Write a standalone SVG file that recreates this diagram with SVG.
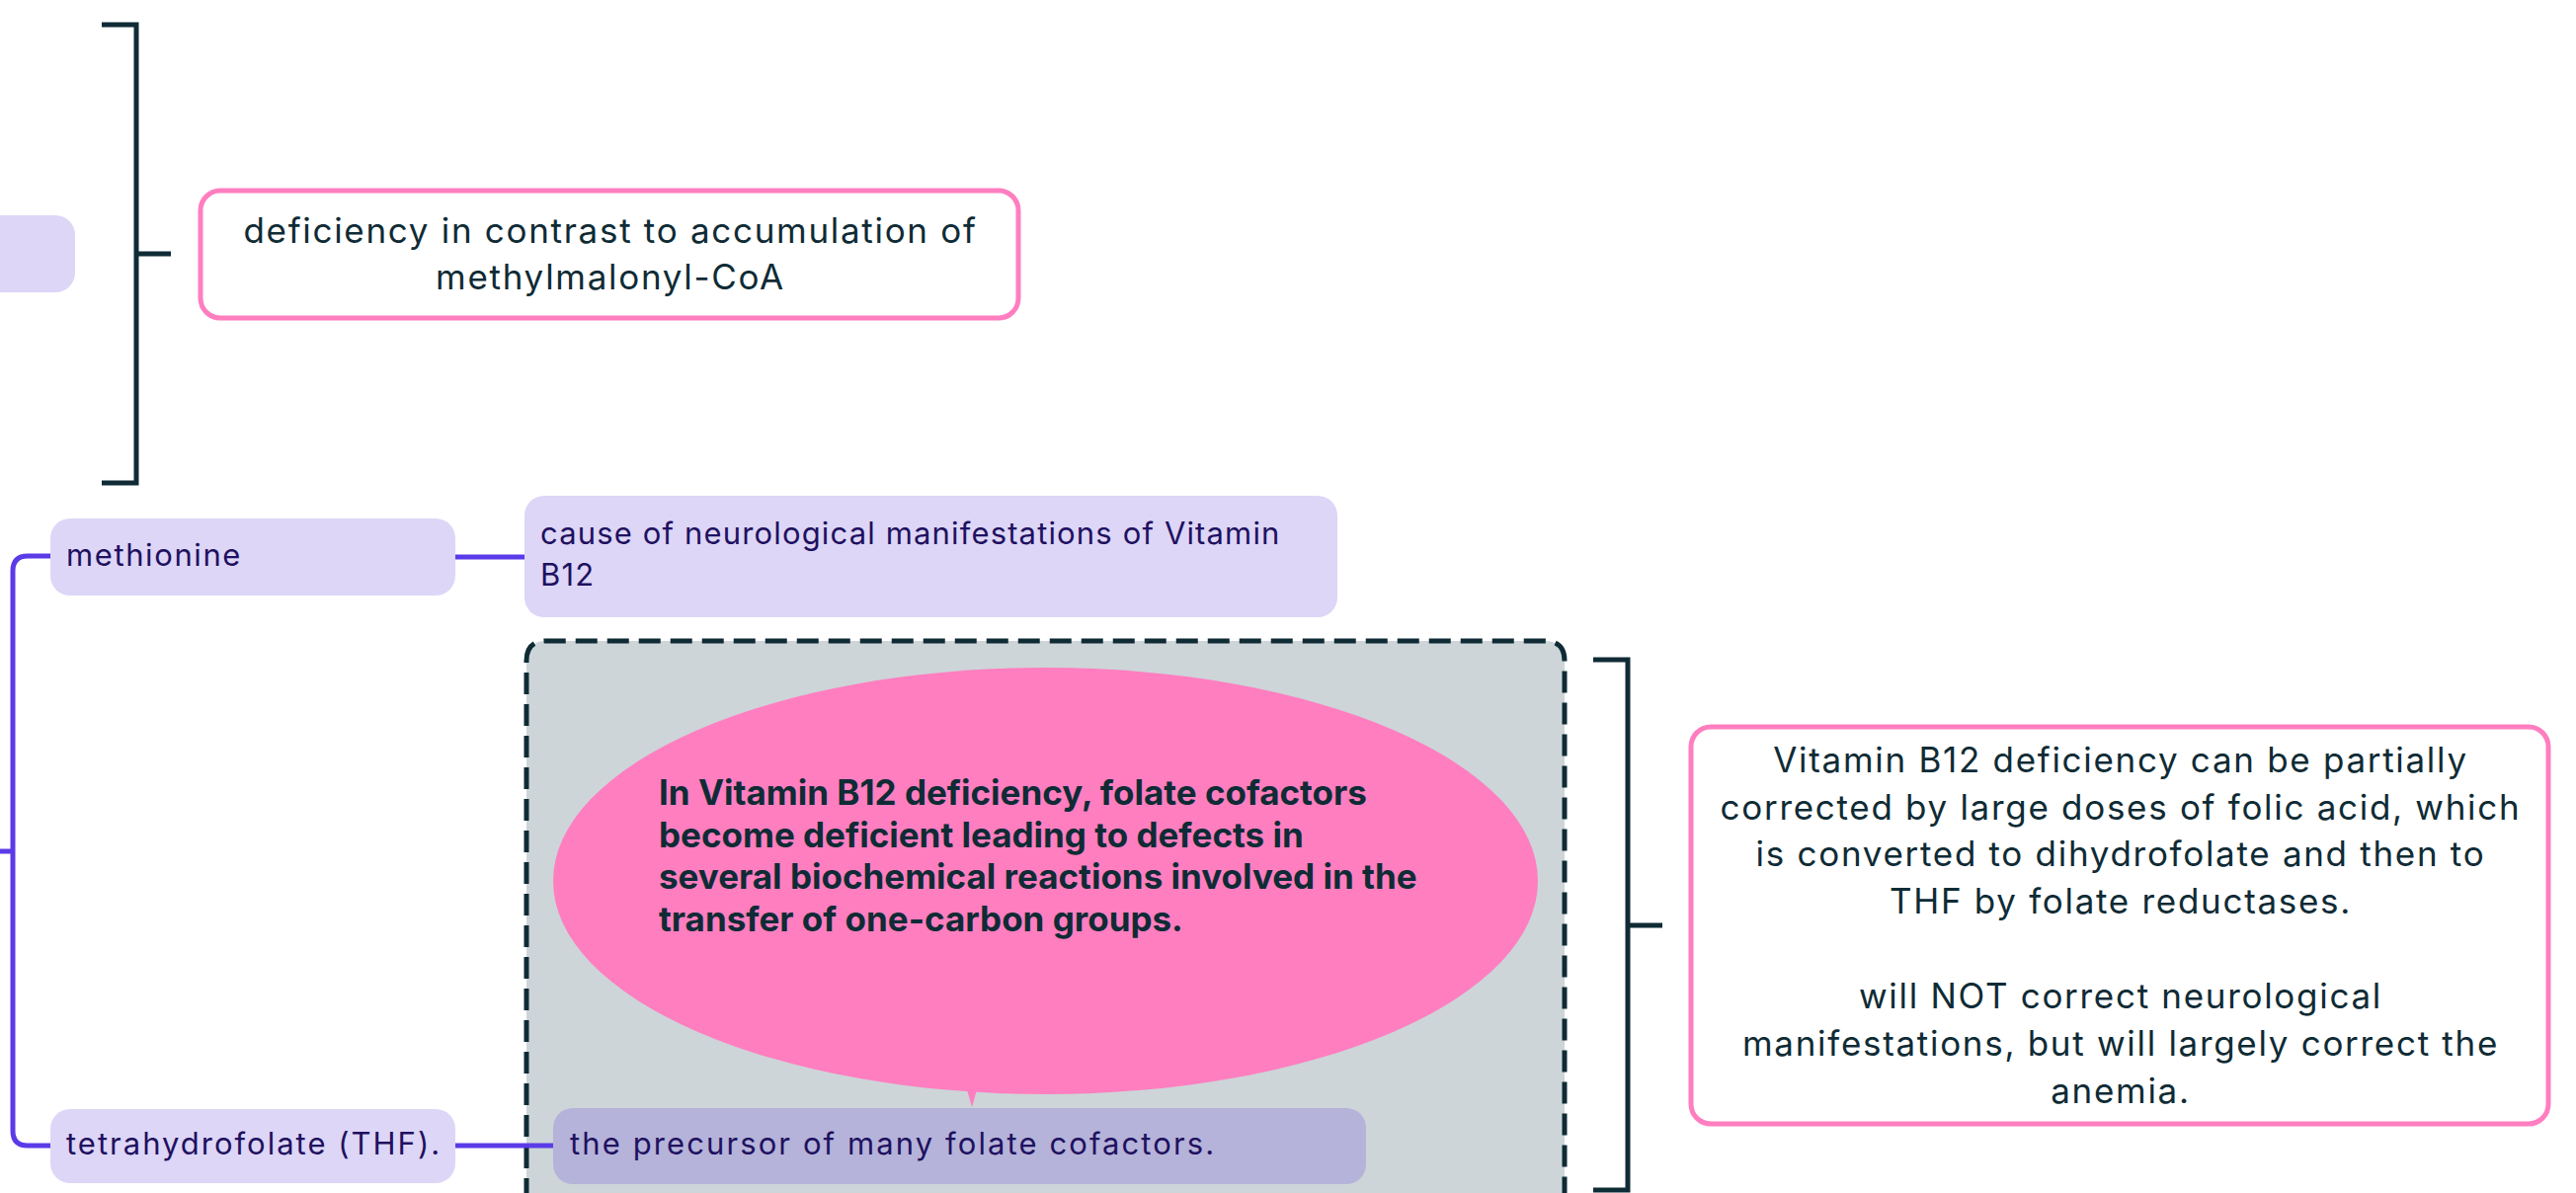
<svg xmlns="http://www.w3.org/2000/svg" width="2608" height="1208" viewBox="0 0 2608 1208">
<style>
.pnode{fill:#DDD6F7}
.dnode{fill:#B5B3D9}
.ptxt{font-family:Inter,"Noto Sans",sans-serif;font-size:31px;letter-spacing:1.6px;fill:#1F1160}
.mtxt{font-family:Inter,"Open Sans",sans-serif;font-size:35px;letter-spacing:1.7px;fill:#0F2B35}
.btxt{font-family:Inter,"Noto Sans",sans-serif;font-size:35px;font-weight:bold;fill:#0F2B35}
.pinkbox{fill:#FFFFFF;stroke:#FF7EC0;stroke-width:5}
.bracket{fill:none;stroke:#0F2B35;stroke-width:5}
.conn{fill:none;stroke:#5B3BE8;stroke-width:5}
</style>
<rect width="2608" height="1208" fill="#FFFFFF"/>
<g id="boundary">
<path d="M533,1215 L533,669 Q533,649 553,649 L1564,649 Q1584,649 1584,669 L1584,1215" fill="#CDD5D8" stroke="#0F2B35" stroke-width="5" stroke-dasharray="22 10"/>
</g>
<g id="connectors">
<path class="conn" d="M51,563 L28,563 Q13,563 13,578 L13,1145 Q13,1160 28,1160 L51,1160"/>
<path class="conn" d="M0,862 L13,862"/>
<path class="conn" d="M461,564 L531,564"/>
<path class="conn" d="M461,1160 L561,1160"/>
<path class="bracket" d="M103,25 L138,25 L138,489 L103,489 M138,257 L173,257"/>
<path class="bracket" d="M1613,668 L1648,668 L1648,1205 L1613,1205 M1648,937 L1683,937"/>
</g>
<g id="node-left-partial">
<rect class="pnode" x="-40" y="218" width="116" height="78" rx="20"/>
</g>
<g id="node-deficiency">
<rect class="pinkbox" x="203" y="193" width="828" height="129" rx="20"/>
<text class="mtxt" text-anchor="middle"><tspan x="618" y="246">deficiency in contrast to accumulation of</tspan><tspan x="618" y="293">methylmalonyl-CoA</tspan></text>
</g>
<g id="node-methionine">
<rect class="pnode" x="51" y="525" width="410" height="78" rx="20"/>
<text class="ptxt" x="67" y="573">methionine</text>
</g>
<g id="node-cause">
<rect class="pnode" x="531" y="502" width="823" height="123" rx="20"/>
<text class="ptxt" style="letter-spacing:1.15px"><tspan x="547" y="551">cause of neurological manifestations of Vitamin</tspan><tspan x="547" y="593">B12</tspan></text>
</g>
<g id="node-thf">
<rect class="pnode" x="51" y="1123" width="410" height="75" rx="20"/>
<text class="ptxt" style="letter-spacing:2px" x="67" y="1169">tetrahydrofolate (THF).</text>
</g>
<g id="node-callout">
<ellipse cx="1058.5" cy="892" rx="498.5" ry="216" fill="#FF7EC0"/>
<polygon points="978,1100 990,1100 984,1121" fill="#FF7EC0"/>
<text class="btxt"><tspan x="667" y="815">In Vitamin B12 deficiency, folate cofactors</tspan><tspan x="667" y="858">become deficient leading to defects in</tspan><tspan x="667" y="900">several biochemical reactions involved in the</tspan><tspan x="667" y="943">transfer of one-carbon groups.</tspan></text>
</g>
<g id="node-precursor">
<rect class="dnode" x="560" y="1122" width="823" height="77" rx="20"/>
<text class="ptxt" style="letter-spacing:2.1px" x="577" y="1169">the precursor of many folate cofactors.</text>
</g>
<g id="node-folic">
<rect class="pinkbox" x="1712" y="736" width="868" height="402" rx="20"/>
<text class="mtxt" text-anchor="middle"><tspan x="2147" y="782">Vitamin B12 deficiency can be partially</tspan><tspan x="2147" y="830">corrected by large doses of folic acid, which</tspan><tspan x="2147" y="877">is converted to dihydrofolate and then to</tspan><tspan x="2147" y="925">THF by folate reductases.</tspan><tspan x="2147" y="1021">will NOT correct neurological</tspan><tspan x="2147" y="1069">manifestations, but will largely correct the</tspan><tspan x="2147" y="1117">anemia.</tspan></text>
</g>
</svg>
